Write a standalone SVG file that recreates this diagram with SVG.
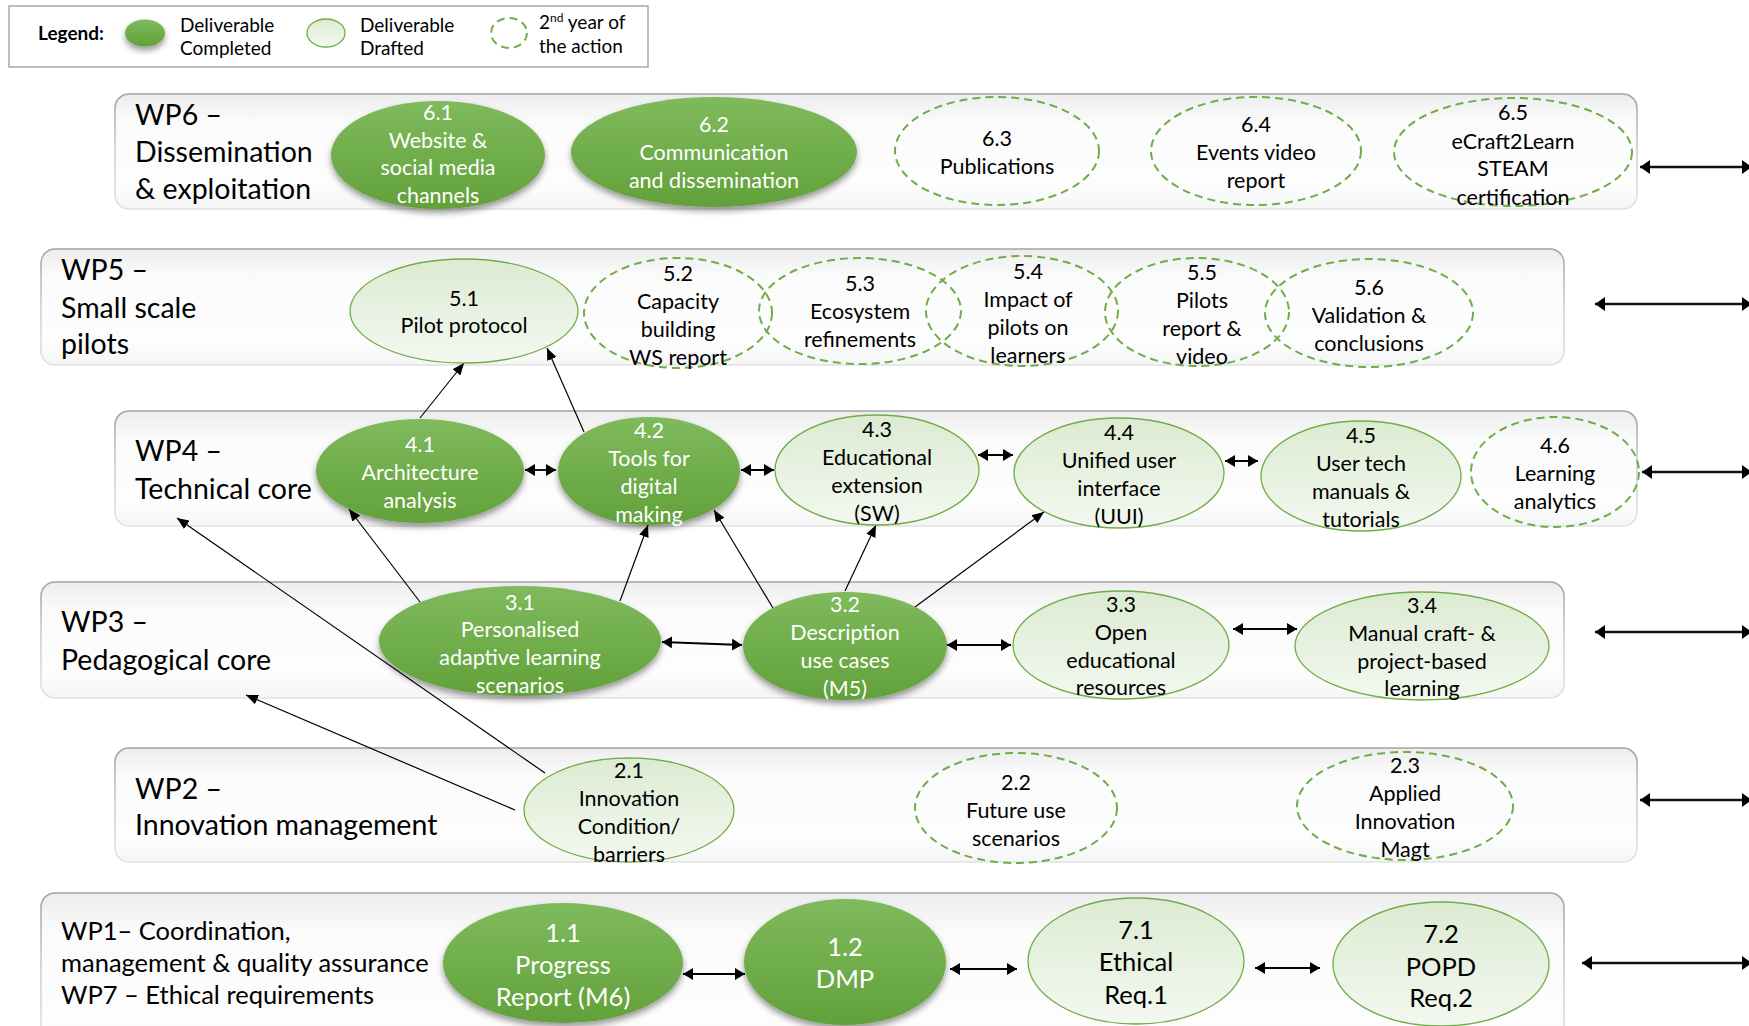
<svg xmlns="http://www.w3.org/2000/svg" width="1749" height="1026" viewBox="0 0 1749 1026">
<style>
text{font-family:Lato,"Open Sans","Liberation Sans",sans-serif;fill:#000}
.n{font-size:21.5px;text-anchor:middle}
.w{fill:#fff}
.big{font-size:25.5px;text-anchor:middle}
.wp{font-size:28.5px}
.wp1{font-size:25.5px}
.lg{font-size:19px}
.panel{fill:url(#pg);stroke:url(#ps);stroke-width:1.6}
.dark{fill:url(#dg);filter:url(#sh)}
.light{fill:url(#lgr);stroke:#70ad47;stroke-width:1.3}
.dash{fill:none;stroke:#70ad47;stroke-width:2;stroke-dasharray:8 5}
.thin{stroke:#000;stroke-width:1.2;fill:none;marker-end:url(#ah)}
.dbl{stroke:#000;stroke-width:1.8;fill:none;marker-start:url(#ad);marker-end:url(#ad)}
.side{stroke:#111;stroke-width:2.6;fill:none;marker-start:url(#as);marker-end:url(#as)}
</style>
<defs>
<linearGradient id="pg" x1="0" y1="0" x2="0" y2="1"><stop offset="0" stop-color="#ededed"/><stop offset="0.25" stop-color="#fbfbfb"/><stop offset="0.8" stop-color="#fdfdfd"/><stop offset="1" stop-color="#f5f5f5"/></linearGradient>
<linearGradient id="ps" x1="0" y1="0" x2="0" y2="1"><stop offset="0" stop-color="#a3a3a3"/><stop offset="0.5" stop-color="#d0d0d0"/><stop offset="1" stop-color="#e2e2e2"/></linearGradient>
<linearGradient id="dg" x1="0" y1="0" x2="0" y2="1"><stop offset="0" stop-color="#7fba5d"/><stop offset="1" stop-color="#62a13a"/></linearGradient>
<linearGradient id="lgr" x1="0" y1="0" x2="0" y2="1"><stop offset="0" stop-color="#dcebd2"/><stop offset="1" stop-color="#f3f8f0"/></linearGradient>
<filter id="sh" x="-20%" y="-20%" width="140%" height="150%"><feDropShadow dx="0" dy="4" stdDeviation="3" flood-color="#000" flood-opacity="0.4"/></filter>
<marker id="ah" viewBox="0 0 12 10" refX="12" refY="5" markerWidth="12" markerHeight="10" markerUnits="userSpaceOnUse" orient="auto"><path d="M0,0 L12,5 L0,10 z" fill="#000"/></marker>
<marker id="ad" viewBox="0 0 10 12" refX="10" refY="6" markerWidth="10" markerHeight="12" markerUnits="userSpaceOnUse" orient="auto-start-reverse"><path d="M0,0 L10,6 L0,12 z" fill="#000"/></marker>
<marker id="as" viewBox="0 0 10 14" refX="10" refY="7" markerWidth="10" markerHeight="14" markerUnits="userSpaceOnUse" orient="auto-start-reverse"><path d="M0,0 L10,7 L0,14 z" fill="#000"/></marker>
</defs>
<rect width="1749" height="1026" fill="#fff"/>

<g id="legend">
<rect x="9" y="6" width="639" height="61" fill="#fff" stroke="#a6a6a6" stroke-width="1.5"/>
<text x="38" y="40" class="lg" font-weight="bold">Legend:</text>
<ellipse cx="145" cy="33" rx="20" ry="13.5" class="dark"/>
<text x="180" y="32" class="lg">Deliverable</text>
<text x="180" y="55" class="lg">Completed</text>
<ellipse cx="326" cy="33" rx="19" ry="14" class="light"/>
<text x="360" y="32" class="lg">Deliverable</text>
<text x="360" y="55" class="lg">Drafted</text>
<ellipse cx="509" cy="33" rx="18" ry="15" class="dash"/>
<text x="539" y="29" class="lg">2<tspan font-size="12" dy="-7">nd</tspan><tspan dy="7"> year of</tspan></text>
<text x="539" y="53" class="lg">the action</text>
</g>

<g id="wp6">
<rect x="115" y="94" width="1522" height="115" rx="14" class="panel"/>
<text class="wp" x="135" y="125">WP6 –</text>
<text class="wp" x="135" y="162">Dissemination</text>
<text class="wp" x="135" y="199">&amp; exploitation</text>
</g>
<g id="wp5">
<rect x="41" y="249" width="1523" height="116" rx="14" class="panel"/>
<text class="wp" x="61" y="280">WP5 –</text>
<text class="wp" x="61" y="318">Small scale</text>
<text class="wp" x="61" y="354">pilots</text>
</g>
<g id="wp4">
<rect x="115" y="411" width="1522" height="115" rx="14" class="panel"/>
<text class="wp" x="135" y="461">WP4 –</text>
<text class="wp" x="135" y="499">Technical core</text>
</g>
<g id="wp3">
<rect x="41" y="582" width="1523" height="116" rx="14" class="panel"/>
<text class="wp" x="61" y="632">WP3 –</text>
<text class="wp" x="61" y="670">Pedagogical core</text>
</g>
<g id="wp2">
<rect x="115" y="748" width="1522" height="114" rx="14" class="panel"/>
<text class="wp" x="135" y="799">WP2 –</text>
<text class="wp" x="135" y="835">Innovation management</text>
</g>
<g id="wp1">
<rect x="41" y="893" width="1523" height="160" rx="14" class="panel"/>
<text class="wp1" x="61" y="940">WP1– Coordination,</text>
<text class="wp1" x="61" y="972">management &amp; quality assurance</text>
<text class="wp1" x="61" y="1004">WP7 – Ethical requirements</text>
</g>

<g id="connectors">
<line class="thin" x1="420" y1="418" x2="464" y2="363"/>
<line class="thin" x1="584" y1="432" x2="547" y2="348"/>
<line class="thin" x1="420" y1="602" x2="349" y2="509"/>
<line class="thin" x1="620" y1="601" x2="648" y2="525"/>
<line class="thin" x1="773" y1="608" x2="714" y2="510"/>
<line class="thin" x1="845" y1="591" x2="876" y2="525"/>
<line class="thin" x1="915" y1="607" x2="1044" y2="512"/>
<line class="thin" x1="545" y1="773" x2="177" y2="518"/>
<line class="thin" x1="515" y1="810" x2="246" y2="695"/>
<line class="dbl" x1="525" y1="470" x2="556" y2="470"/>
<line class="dbl" x1="741" y1="470" x2="774" y2="470"/>
<line class="dbl" x1="978" y1="455" x2="1013" y2="455"/>
<line class="dbl" x1="1225" y1="461" x2="1258" y2="461"/>
<line class="dbl" x1="662" y1="642" x2="742" y2="645"/>
<line class="dbl" x1="947" y1="645" x2="1011" y2="645"/>
<line class="dbl" x1="1233" y1="629" x2="1297" y2="629"/>
<line class="dbl" x1="683" y1="974" x2="745" y2="974"/>
<line class="dbl" x1="950" y1="969" x2="1017" y2="969"/>
<line class="dbl" x1="1255" y1="968" x2="1320" y2="968"/>
<line class="side" x1="1640" y1="167" x2="1752" y2="167"/>
<line class="side" x1="1595" y1="304" x2="1752" y2="304"/>
<line class="side" x1="1642" y1="472" x2="1752" y2="472"/>
<line class="side" x1="1595" y1="632" x2="1752" y2="632"/>
<line class="side" x1="1640" y1="800" x2="1752" y2="800"/>
<line class="side" x1="1582" y1="963" x2="1752" y2="963"/>
</g>

<g id="d6-1"><ellipse cx="438" cy="155" rx="107" ry="54" class="dark"/>
<text class="n w" x="438" y="120">6.1</text><text class="n w" x="438" y="147.5">Website &amp;</text><text class="n w" x="438" y="175">social media</text><text class="n w" x="438" y="202.5">channels</text></g>
<g id="d6-2"><ellipse cx="714" cy="152" rx="143" ry="55" class="dark"/>
<text class="n w" x="714" y="132">6.2</text><text class="n w" x="714" y="160">Communication</text><text class="n w" x="714" y="188">and dissemination</text></g>
<g id="d6-3"><ellipse cx="997" cy="151" rx="102" ry="54" class="dash"/>
<text class="n" x="997" y="146">6.3</text><text class="n" x="997" y="174">Publications</text></g>
<g id="d6-4"><ellipse cx="1256" cy="151" rx="105" ry="54" class="dash"/>
<text class="n" x="1256" y="132">6.4</text><text class="n" x="1256" y="160">Events video</text><text class="n" x="1256" y="188">report</text></g>
<g id="d6-5"><ellipse cx="1513" cy="152" rx="119" ry="54" class="dash"/>
<text class="n" x="1513" y="120">6.5</text><text class="n" x="1513" y="149">eCraft2Learn</text><text class="n" x="1513" y="176">STEAM</text><text class="n" x="1513" y="205">certification</text></g>

<g id="d5-1"><ellipse cx="464" cy="311" rx="114" ry="52" class="light"/>
<text class="n" x="464" y="306">5.1</text><text class="n" x="464" y="333">Pilot protocol</text></g>
<g id="d5-2"><ellipse cx="678" cy="313" rx="94" ry="55" class="dash"/>
<text class="n" x="678" y="281">5.2</text><text class="n" x="678" y="309">Capacity</text><text class="n" x="678" y="337">building</text><text class="n" x="678" y="365">WS report</text></g>
<g id="d5-3"><ellipse cx="860" cy="311" rx="101" ry="53" class="dash"/>
<text class="n" x="860" y="291">5.3</text><text class="n" x="860" y="319">Ecosystem</text><text class="n" x="860" y="347">refinements</text></g>
<g id="d5-4"><ellipse cx="1022" cy="311" rx="96" ry="55" class="dash"/>
<text class="n" x="1028" y="279">5.4</text><text class="n" x="1028" y="307">Impact of</text><text class="n" x="1028" y="335">pilots on</text><text class="n" x="1028" y="363">learners</text></g>
<g id="d5-5"><ellipse cx="1197" cy="312" rx="92" ry="54" class="dash"/>
<text class="n" x="1202" y="280">5.5</text><text class="n" x="1202" y="308">Pilots</text><text class="n" x="1202" y="336">report &amp;</text><text class="n" x="1202" y="364">video</text></g>
<g id="d5-6"><ellipse cx="1369" cy="313" rx="104" ry="54" class="dash"/>
<text class="n" x="1369" y="295">5.6</text><text class="n" x="1369" y="323">Validation &amp;</text><text class="n" x="1369" y="351">conclusions</text></g>

<g id="d4-1"><ellipse cx="420" cy="471" rx="104" ry="52" class="dark"/>
<text class="n w" x="420" y="452">4.1</text><text class="n w" x="420" y="480">Architecture</text><text class="n w" x="420" y="508">analysis</text></g>
<g id="d4-2"><ellipse cx="649" cy="471" rx="91" ry="54" class="dark"/>
<text class="n w" x="649" y="438">4.2</text><text class="n w" x="649" y="466">Tools for</text><text class="n w" x="649" y="494">digital</text><text class="n w" x="649" y="522">making</text></g>
<g id="d4-3"><ellipse cx="877" cy="470" rx="102" ry="55" class="light"/>
<text class="n" x="877" y="437">4.3</text><text class="n" x="877" y="465">Educational</text><text class="n" x="877" y="493">extension</text><text class="n" x="877" y="521">(SW)</text></g>
<g id="d4-4"><ellipse cx="1119" cy="473" rx="105" ry="55" class="light"/>
<text class="n" x="1119" y="440">4.4</text><text class="n" x="1119" y="468">Unified user</text><text class="n" x="1119" y="496">interface</text><text class="n" x="1119" y="524">(UUI)</text></g>
<g id="d4-5"><ellipse cx="1361" cy="476" rx="100" ry="55" class="light"/>
<text class="n" x="1361" y="443">4.5</text><text class="n" x="1361" y="471">User tech</text><text class="n" x="1361" y="499">manuals &amp;</text><text class="n" x="1361" y="527">tutorials</text></g>
<g id="d4-6"><ellipse cx="1555" cy="472" rx="84" ry="55" class="dash"/>
<text class="n" x="1555" y="453">4.6</text><text class="n" x="1555" y="481">Learning</text><text class="n" x="1555" y="509">analytics</text></g>

<g id="d3-1"><ellipse cx="520" cy="641" rx="141" ry="55" class="dark"/>
<text class="n w" x="520" y="610">3.1</text><text class="n w" x="520" y="637">Personalised</text><text class="n w" x="520" y="665">adaptive learning</text><text class="n w" x="520" y="693">scenarios</text></g>
<g id="d3-2"><ellipse cx="845" cy="646" rx="102" ry="54" class="dark"/>
<text class="n w" x="845" y="612">3.2</text><text class="n w" x="845" y="640">Description</text><text class="n w" x="845" y="668">use cases</text><text class="n w" x="845" y="696">(M5)</text></g>
<g id="d3-3"><ellipse cx="1121" cy="645" rx="108" ry="54" class="light"/>
<text class="n" x="1121" y="612">3.3</text><text class="n" x="1121" y="640">Open</text><text class="n" x="1121" y="668">educational</text><text class="n" x="1121" y="695">resources</text></g>
<g id="d3-4"><ellipse cx="1422" cy="646" rx="127" ry="54" class="light"/>
<text class="n" x="1422" y="613">3.4</text><text class="n" x="1422" y="641">Manual craft- &amp;</text><text class="n" x="1422" y="669">project-based</text><text class="n" x="1422" y="696">learning</text></g>

<g id="d2-1"><ellipse cx="629" cy="810" rx="105" ry="52" class="light"/>
<text class="n" x="629" y="778">2.1</text><text class="n" x="629" y="806">Innovation</text><text class="n" x="629" y="834">Condition/</text><text class="n" x="629" y="862">barriers</text></g>
<g id="d2-2"><ellipse cx="1016" cy="808" rx="101" ry="55" class="dash"/>
<text class="n" x="1016" y="790">2.2</text><text class="n" x="1016" y="818">Future use</text><text class="n" x="1016" y="846">scenarios</text></g>
<g id="d2-3"><ellipse cx="1405" cy="806" rx="108" ry="54" class="dash"/>
<text class="n" x="1405" y="773">2.3</text><text class="n" x="1405" y="801">Applied</text><text class="n" x="1405" y="829">Innovation</text><text class="n" x="1405" y="857">Magt</text></g>

<g id="d1-1"><ellipse cx="563" cy="963" rx="120" ry="60" class="dark"/>
<text class="big w" x="563" y="942">1.1</text><text class="big w" x="563" y="974">Progress</text><text class="big w" x="563" y="1006">Report (M6)</text></g>
<g id="d1-2"><ellipse cx="845" cy="962" rx="101" ry="63" class="dark"/>
<text class="big w" x="845" y="956">1.2</text><text class="big w" x="845" y="988">DMP</text></g>
<g id="d7-1"><ellipse cx="1136" cy="961" rx="108" ry="63" class="light"/>
<text class="big" x="1136" y="939">7.1</text><text class="big" x="1136" y="971">Ethical</text><text class="big" x="1136" y="1004">Req.1</text></g>
<g id="d7-2"><ellipse cx="1441" cy="964" rx="108" ry="62" class="light"/>
<text class="big" x="1441" y="943">7.2</text><text class="big" x="1441" y="976">POPD</text><text class="big" x="1441" y="1007">Req.2</text></g>
</svg>
